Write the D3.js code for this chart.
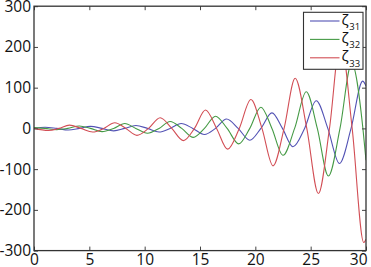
<!DOCTYPE html>
<html>
<head>
<meta charset="utf-8">
<script src="https://cdn.jsdelivr.net/npm/d3@7"></script>
<style>
  body { margin: 0; background: #fff; }
  svg { display: block; }
  text { font-family: "Open Sans", sans-serif; fill: #111; }
</style>
</head>
<body>
<div id="chart"></div>
<script>
// values (extrema and zero crossings)
const blueX = [0, 1.0, 2.05, 3.1, 4.1, 5.1, 6.15, 7.2, 8.2, 9.2, 10.25, 11.3, 12.3, 13.3, 14.35, 15.4, 16.4, 17.4, 18.45, 19.5, 20.5, 21.5, 22.45, 23.4, 24.45, 25.5, 26.55, 27.6, 28.65, 29.7, 30];
const blueY = [0, 3, 0, -4, 0, 5, 0, -6, 0, 7, 0, -9, 0, 12, 0, -15, 0, 23, 0, -29, 0, 38, 0, -45, 0, 68, 0, -86, 0, 116, 104];

const greenX = [0, 1.0, 2.05, 3.05, 4.1, 5.1, 6.15, 7.2, 8.2, 9.2, 10.25, 11.3, 12.3, 13.35, 14.4, 15.4, 16.4, 17.45, 18.5, 19.5, 20.5, 21.5, 22.5, 23.55, 24.6, 25.6, 26.6, 27.65, 28.7, 29.72, 30];
const greenY = [2, 0, -3, 0, 6, 0, -8, 0, 12, 0, -12, 0, 17, 0, -22, 0, 30, 0, -38, 0, 52, 0, -66, 0, 90, 0, -117, 0, 160, 0, -78];

const redX = [0, 1.3, 2.25, 3.2, 4.25, 5.3, 6.3, 7.3, 8.3, 9.3, 10.35, 11.4, 12.45, 13.5, 14.5, 15.5, 16.5, 17.5, 18.55, 19.6, 20.6, 21.6, 22.6, 23.6, 24.65, 25.7, 26.7, 27.7, 28.75, 29.8, 30];
const redY = [0, -5, 0, 8, 0, -9, 0, 14, 0, -17, 0, 26, 0, -30, 0, 45, 0, -51, 0, 71, 0, -92, 0, 123, 0, -160, 0, 215, 0, -280, -272];

const seriesNames = ["31", "32", "33"];
const xTicks = [0, 5, 10, 15, 20, 25, 30];
const yTicks = [-300, -200, -100, 0, 100, 200, 300];
const yTickLabels = ["-300", "-200", "-100", "0", "100", "200", "300"];

const w = 371, h = 267;
const pLeft = 34, pRight = 366, pTop = 6.2, pBottom = 250.6;
const colors = ["#5252b4", "#459a45", "#d24e55"];

const svg = d3.select("#chart").append("svg").attr("width", w).attr("height", h);

const x = d3.scaleLinear().domain([0, 30]).range([pLeft, pRight]);
const y = d3.scaleLinear().domain([-300, 300]).range([pBottom, pTop]);

svg.append("clipPath").attr("id", "clip")
  .append("rect").attr("x", pLeft).attr("y", pTop).attr("width", pRight - pLeft).attr("height", pBottom - pTop);

// curves
const series = [
  d3.zip(blueX, blueY),
  d3.zip(greenX, greenY),
  d3.zip(redX, redY)
];
const line = d3.line().x(d => x(d[0])).y(d => y(d[1])).curve(d3.curveMonotoneX);

svg.append("g").attr("clip-path", "url(#clip)")
  .selectAll("path")
  .data(series)
  .enter()
  .append("path")
  .attr("d", line)
  .attr("fill", "none")
  .attr("stroke", (d, i) => colors[i])
  .attr("stroke-width", 1.1);

// axes: inward ticks on all four sides
const tl = 4;
const xB = d3.axisBottom(x).tickValues(xTicks).tickSizeInner(-tl).tickSizeOuter(0).tickPadding(5);
const xT = d3.axisTop(x).tickValues(xTicks).tickSizeInner(-tl).tickSizeOuter(0).tickFormat("");
const yL = d3.axisLeft(y).tickValues(yTicks).tickSizeInner(-tl).tickSizeOuter(0).tickPadding(4)
  .tickFormat((d, i) => yTickLabels[i]);
const yR = d3.axisRight(y).tickValues(yTicks).tickSizeInner(-tl).tickSizeOuter(0).tickFormat("");

const gxB = svg.append("g").attr("transform", `translate(0,${pBottom})`).call(xB);
svg.append("g").attr("transform", `translate(0,${pTop})`).call(xT);
const gyL = svg.append("g").attr("transform", `translate(${pLeft},0)`).call(yL);
svg.append("g").attr("transform", `translate(${pRight},0)`).call(yR);

svg.selectAll(".domain").remove();
svg.selectAll(".tick line").attr("stroke", "#444").attr("stroke-width", 1);
svg.selectAll(".tick text").attr("font-size", 15.5).attr("fill", "#111").attr("font-family", "Open Sans, sans-serif");
gxB.selectAll(".tick text").attr("dy", "0.6em");
gxB.selectAll(".tick").filter(d => d === 30).select("text").attr("text-anchor", "end").attr("dx", 1);
gyL.selectAll(".tick text").attr("x", -3);

// frame
svg.append("rect")
  .attr("x", pLeft).attr("y", pTop)
  .attr("width", pRight - pLeft).attr("height", pBottom - pTop)
  .attr("fill", "none").attr("stroke", "#333").attr("stroke-width", 1.3);

// legend
const lg = svg.append("g");
lg.append("rect")
  .attr("x", 303.5).attr("y", 12.3).attr("width", 59.5).attr("height", 57)
  .attr("fill", "#fff").attr("stroke", "#333").attr("stroke-width", 1.1);
const rows = lg.selectAll("g.row").data(seriesNames).enter().append("g")
  .attr("transform", (d, i) => `translate(0,${21 + i * 18.4})`);
rows.append("line")
  .attr("x1", 310).attr("x2", 339.5).attr("y1", 0).attr("y2", 0)
  .attr("stroke", (d, i) => colors[i]).attr("stroke-width", 1.1);
rows.append("text")
  .attr("x", 341.5).attr("y", 3.5)
  .attr("font-size", 15).attr("font-family", "DejaVu Sans, sans-serif")
  .text("ζ");
rows.append("text")
  .attr("x", 349.3).attr("y", 9)
  .attr("font-size", 9.5)
  .text(d => d);
</script>
</body>
</html>
